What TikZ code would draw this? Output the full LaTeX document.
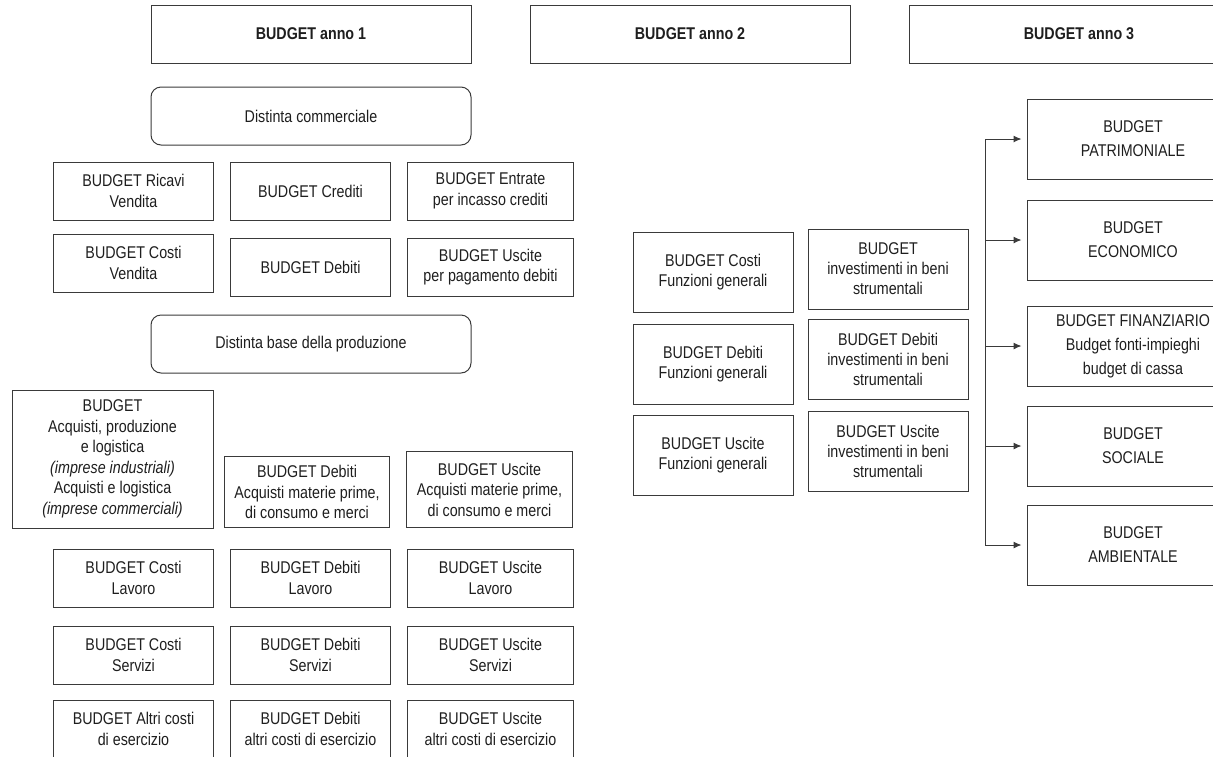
\documentclass[tikz,border=0pt]{standalone}
\usepackage{fontspec}
\setmainfont{Liberation Sans}[FakeStretch=0.84]
\usepackage{tikz}
\usetikzlibrary{arrows.meta, positioning}
\definecolor{bline}{HTML}{3A3A3A}
\definecolor{btext}{HTML}{1E1E1E}
\tikzset{
  box/.style={rectangle, draw=bline, line width=1pt, text=btext, minimum height=58pt,
              minimum width=160pt, align=center, inner sep=2pt,
              font=\fontsize{17}{20.5}\selectfont},
  head/.style={box, minimum width=320pt, font=\fontsize{17}{20.5}\selectfont\bfseries},
  dist/.style={box, rounded corners=10pt, minimum width=320pt},
  wide/.style={minimum width=166pt},
  mid/.style={box, minimum height=80pt, font=\fontsize{17}{20}\selectfont},
  res/.style={box, minimum width=212pt, minimum height=80pt, font=\fontsize{17}{24}\selectfont},
  flow/.style={-{Latex[length=8pt, width=7pt]}, draw=bline, line width=1pt, shorten >=5pt},
  trunkline/.style={draw=bline, line width=1pt}
}
\begin{document}
\begin{tikzpicture}[x=1pt, y=-1pt, node distance=16pt]
  \useasboundingbox (0,0) rectangle (1213,756);
  \clip (0,0) rectangle (1213,756);
  % anni
  \node[head] (anno1) at (311,34) {BUDGET anno 1};
  \node[head, right=58pt of anno1] (anno2) {BUDGET anno 2};
  \node[head, minimum width=340pt, right=58pt of anno2] (anno3) {BUDGET anno 3};
  % anno 1
  \node[dist, below=23pt of anno1] (comm) {Distinta commerciale};
  \node[box] (ricavi) at (133.5,191) {BUDGET Ricavi\\Vendita};
  \node[box, right=of ricavi] (crediti) {BUDGET Crediti};
  \node[box, wide, right=of crediti] (entrate) {BUDGET Entrate\\per incasso crediti};
  \node[box, below=13pt of ricavi] (costiv) {BUDGET Costi\\Vendita};
  \node[box, below=17pt of crediti] (debiti) {BUDGET Debiti};
  \node[box, wide, below=17pt of entrate] (uscite) {BUDGET Uscite\\per pagamento debiti};
  \node[dist] (base) at (311,344) {Distinta base della produzione};
  \node[box, minimum width=201pt, minimum height=138pt] (acq) at (112.5,459)
    {BUDGET\\Acquisti, produzione\\e logistica\\\textit{(imprese industriali)}\\Acquisti e logistica\\\textit{(imprese commerciali)}};
  \node[box, minimum width=165pt, minimum height=71pt, anchor=south west] (debacq) at (224,528)
    {BUDGET Debiti\\Acquisti materie prime,\\di consumo e merci};
  \node[box, wide, minimum height=76pt, anchor=south west] (uscacq) at (406,528)
    {BUDGET Uscite\\Acquisti materie prime,\\di consumo e merci};
  \node[box] (clav) at (133.5,578) {BUDGET Costi\\Lavoro};
  \node[box, right=of clav] (dlav) {BUDGET Debiti\\Lavoro};
  \node[box, wide, right=of dlav] (ulav) {BUDGET Uscite\\Lavoro};
  \node[box, below=18pt of clav] (cser) {BUDGET Costi\\Servizi};
  \node[box, right=of cser] (dser) {BUDGET Debiti\\Servizi};
  \node[box, wide, right=of dser] (user) {BUDGET Uscite\\Servizi};
  \node[box, below=15pt of cser] (calt) {BUDGET Altri costi\\di esercizio};
  \node[box, right=of calt] (dalt) {BUDGET Debiti\\altri costi di esercizio};
  \node[box, wide, right=of dalt] (ualt) {BUDGET Uscite\\altri costi di esercizio};
  % anno 2
  \node[mid] (cfg) at (713,272) {BUDGET Costi\\Funzioni generali};
  \node[mid, right=14pt of cfg, yshift=3pt] (inv) {BUDGET\\investimenti in beni\\strumentali};
  \node[mid, below=11pt of cfg] (dfg) {BUDGET Debiti\\Funzioni generali};
  \node[mid, right=14pt of dfg, yshift=4.5pt] (dinv) {BUDGET Debiti\\investimenti in beni\\strumentali};
  \node[mid, below=10pt of dfg] (ufg) {BUDGET Uscite\\Funzioni generali};
  \node[mid, right=14pt of ufg, yshift=3.5pt] (uinv) {BUDGET Uscite\\investimenti in beni\\strumentali};
  % anno 3
  \node[res] (pat) at (1133,139) {BUDGET\\PATRIMONIALE};
  \node[res, below=20pt of pat] (eco) {BUDGET\\ECONOMICO};
  \node[res, below=25pt of eco] (fin) {BUDGET FINANZIARIO\\Budget fonti-impieghi\\budget di cassa};
  \node[res, below=19pt of fin] (soc) {BUDGET\\SOCIALE};
  \node[res, below=18pt of soc] (amb) {BUDGET\\AMBIENTALE};
  \coordinate (trunk) at (985,0);
  \draw[trunkline] (trunk |- pat.west) -- (trunk |- amb.west);
  \foreach \n in {pat,eco,fin,soc,amb}
    \draw[flow] (trunk |- \n.west) -- (\n.west);
\end{tikzpicture}
\end{document}
